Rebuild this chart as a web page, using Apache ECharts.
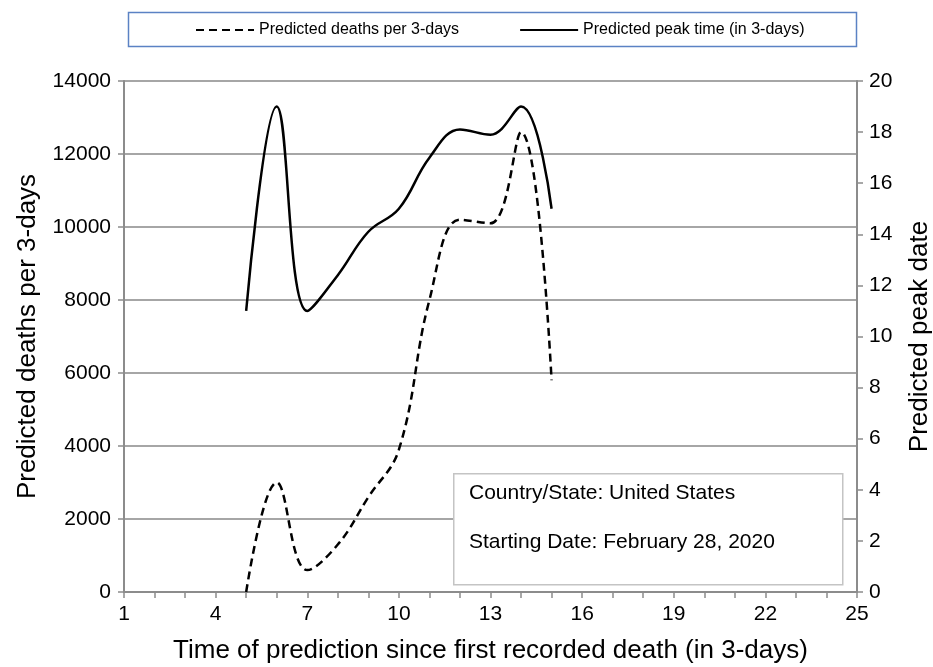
<!DOCTYPE html>
<html>
<head>
<meta charset="utf-8">
<script src="https://cdn.jsdelivr.net/npm/echarts@6/dist/echarts.min.js"></script>
<style>
  html, body { margin: 0; padding: 0; background: #fff; }
  #chart { width: 933px; height: 667px; }
</style>
</head>
<body>
<div id="chart"></div>
<script>
// time of prediction (in 3-days)
const periods = [5, 6, 7, 8, 9, 10, 11, 12, 13, 14, 15];
// left axis: predicted deaths per 3-days
const predictedDeaths = [0, 3000, 600, 1300, 2600, 3900, 8000, 10200, 10100, 12600, 5800];
// right axis: predicted peak time (in 3-days)
const predictedPeak = [11, 19, 11, 12.4, 14.1, 15, 17, 18.1, 17.9, 19, 15];

const seriesNames = ['Predicted deaths per 3-days', 'Predicted peak time (in 3-days)'];
const infoLines = ['Country/State: United States', 'Starting Date: February 28, 2020'];

const font = 'Liberation Sans, Arial, sans-serif';
const axisGray = '#8c8c8c';

const chart = echarts.init(document.getElementById('chart'));

chart.setOption({
  animation: false,
  textStyle: { fontFamily: font, color: '#000' },
  grid: { left: 124, right: 76, top: 81, bottom: 75, outerBoundsMode: 'none' },
  legend: {
    data: seriesNames,
    left: 190,
    top: 17,
    itemWidth: 58,
    itemHeight: 10,
    itemGap: 60,
    itemStyle: { opacity: 0 },
    textStyle: { fontSize: 16, color: '#000' }
  },
  xAxis: {
    type: 'value',
    min: 1,
    max: 25,
    interval: 1,
    name: 'Time of prediction since first recorded death (in 3-days)',
    nameLocation: 'middle',
    nameGap: 46,
    nameTextStyle: { fontSize: 26, color: '#000' },
    axisLine: { onZero: false, lineStyle: { color: axisGray, width: 2 } },
    axisTick: { length: 6, lineStyle: { color: axisGray, width: 1.5 } },
    axisLabel: {
      fontSize: 21,
      color: '#000',
      margin: 12,
      formatter: v => ((v - 1) % 3 === 0 ? String(v) : '')
    },
    splitLine: { show: false }
  },
  yAxis: [
    {
      type: 'value',
      min: 0,
      max: 14000,
      interval: 2000,
      name: 'Predicted deaths per 3-days',
      nameLocation: 'middle',
      nameGap: 83,
      nameRotate: 90,
      nameTextStyle: { fontSize: 26, color: '#000' },
      axisLine: { show: true, lineStyle: { color: axisGray, width: 2 } },
      axisTick: { show: true, length: 6, lineStyle: { color: axisGray, width: 1.5 } },
      axisLabel: { fontSize: 21, color: '#000', margin: 13, formatter: v => String(v) },
      splitLine: { show: true, lineStyle: { color: '#a6a6a6', width: 2 } }
    },
    {
      type: 'value',
      min: 0,
      max: 20,
      interval: 2,
      position: 'right',
      name: 'Predicted peak date',
      nameLocation: 'middle',
      nameGap: 50,
      nameRotate: 90,
      nameTextStyle: { fontSize: 26, color: '#000' },
      axisLine: { show: true, lineStyle: { color: axisGray, width: 2 } },
      axisTick: { show: true, length: 6, lineStyle: { color: axisGray, width: 1.5 } },
      axisLabel: { fontSize: 21, color: '#000', margin: 12 },
      splitLine: { show: false }
    }
  ],
  series: [
    {
      name: seriesNames[0],
      type: 'line',
      yAxisIndex: 0,
      smooth: 0.4,
      symbol: 'none',
      data: periods.map((p, i) => [p, predictedDeaths[i]]),
      lineStyle: { color: '#000', width: 2.5, type: [8, 5] },
      itemStyle: { color: '#000' },
      z: 3
    },
    {
      name: seriesNames[1],
      type: 'line',
      yAxisIndex: 1,
      smooth: 0.4,
      symbol: 'none',
      data: periods.map((p, i) => [p, predictedPeak[i]]),
      lineStyle: { color: '#000', width: 2.5 },
      itemStyle: { color: '#000' },
      z: 3
    }
  ],
  graphic: [
    {
      type: 'rect',
      left: 126,
      top: 10,
      shape: { width: 728, height: 34 },
      style: { fill: 'none', stroke: '#5b82c4', lineWidth: 1.5 },
      z: -1
    },
    {
      type: 'rect',
      left: 453,
      top: 473,
      shape: { width: 389, height: 111 },
      style: { fill: '#fff', stroke: '#c4c4c4', lineWidth: 1.5 },
      z: 10
    },
    {
      type: 'text',
      left: 469,
      top: 483,
      style: { text: infoLines[0], font: '21px ' + font, fill: '#000' },
      z: 11
    },
    {
      type: 'text',
      left: 469,
      top: 532,
      style: { text: infoLines[1], font: '21px ' + font, fill: '#000' },
      z: 11
    }
  ]
});
</script>
</body>
</html>
